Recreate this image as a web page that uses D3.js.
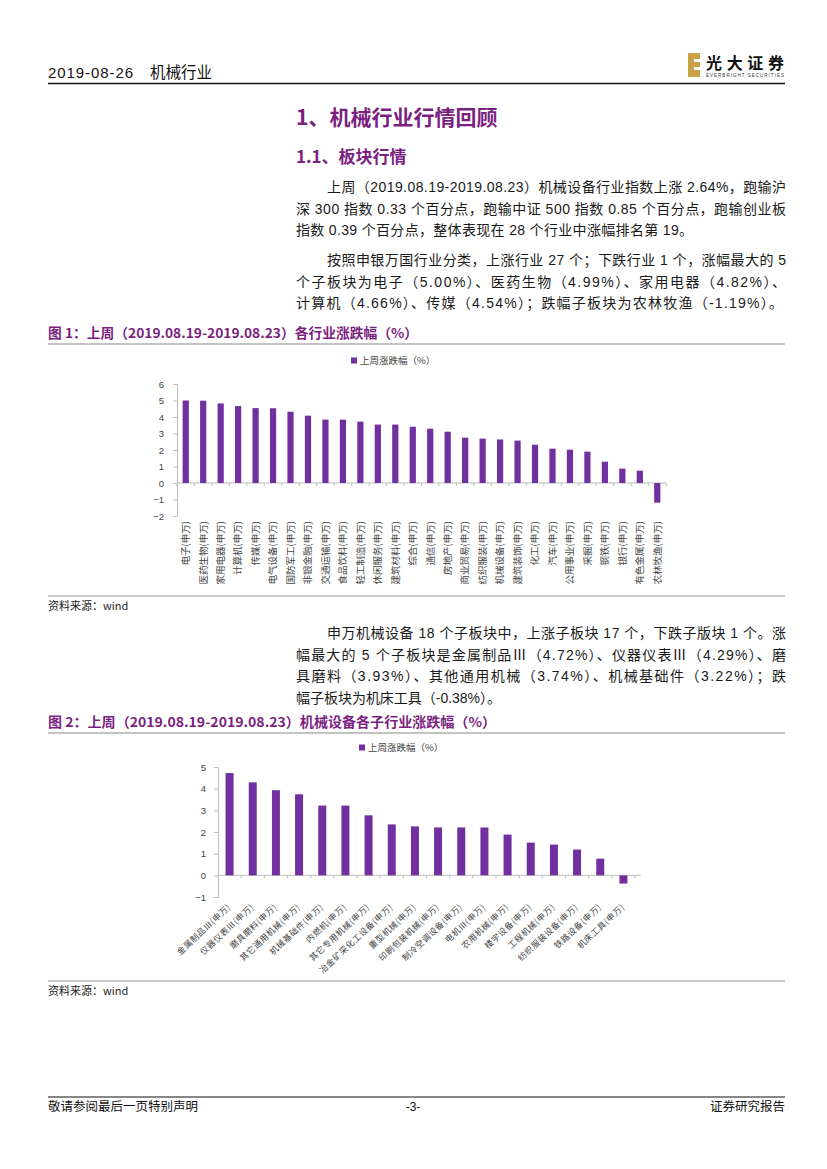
<!DOCTYPE html>
<html>
<head>
<meta charset="utf-8">
<script src="https://cdn.jsdelivr.net/npm/d3@7"></script>
<style>
  html, body { margin: 0; padding: 0; background: #fff; }
  svg { display: block; }
  text { font-family: "Liberation Sans", "Noto Sans CJK SC", sans-serif; }
</style>
</head>
<body>
<div id="page"></div>
<script>
// chart data
var industries = ['电子(申万)', '医药生物(申万)', '家用电器(申万)', '计算机(申万)', '传媒(申万)',
    '电气设备(申万)', '国防军工(申万)', '非银金融(申万)', '交通运输(申万)', '食品饮料(申万)',
    '轻工制造(申万)', '休闲服务(申万)', '建筑材料(申万)', '综合(申万)', '通信(申万)',
    '房地产(申万)', '商业贸易(申万)', '纺织服装(申万)', '机械设备(申万)', '建筑装饰(申万)',
    '化工(申万)', '汽车(申万)', '公用事业(申万)', '采掘(申万)', '钢铁(申万)',
    '银行(申万)', '有色金属(申万)', '农林牧渔(申万)'];
var industryChange = [5.00, 4.99, 4.82, 4.66, 4.54, 4.53, 4.32, 4.08, 3.84, 3.84,
    3.72, 3.54, 3.54, 3.41, 3.29, 3.11, 2.75, 2.69, 2.64, 2.57,
    2.32, 2.08, 2.02, 1.90, 1.29, 0.87, 0.75, -1.19];
var industryTicks = [-2, -1, 0, 1, 2, 3, 4, 5, 6];

var subSectors = ['金属制品Ⅲ(申万)', '仪器仪表Ⅲ(申万)', '磨具磨料(申万)', '其它通用机械(申万)',
    '机械基础件(申万)', '内燃机(申万)', '其它专用机械(申万)', '冶金矿采化工设备(申万)',
    '重型机械(申万)', '印刷包装机械(申万)', '制冷空调设备(申万)', '电机Ⅲ(申万)',
    '农用机械(申万)', '楼宇设备(申万)', '工程机械(申万)', '纺织服装设备(申万)',
    '铁路设备(申万)', '机床工具(申万)'];
var subSectorChange = [4.72, 4.29, 3.93, 3.74, 3.22, 3.22, 2.77, 2.35, 2.26, 2.21,
    2.21, 2.21, 1.88, 1.51, 1.42, 1.19, 0.77, -0.38];
var subSectorTicks = [-1, 0, 1, 2, 3, 4, 5];

var legendLabel = '上周涨跌幅（%）';

var barColor = '#7030a0';
var titleColor = '#7b1f80';
var textColor = '#1a1a1a';
var chartTextColor = '#444';
var axisColor = '#bdbdbd';
var cjk = '"Noto Sans CJK SC", sans-serif';

var width = 827;
var height = 1169;

var svg = d3.select('#page')
    .append('svg')
    .attr('width', width)
    .attr('height', height);

svg.append('rect')
    .attr('width', width)
    .attr('height', height)
    .style('fill', '#fff');

// ---- header ----
svg.append('text')
    .attr('x', 48).attr('y', 78)
    .attr('textLength', 85)
    .style('font-size', '15px')
    .style('fill', '#111')
    .text('2019-08-26');
svg.append('text')
    .attr('x', 150).attr('y', 78)
    .style('font-family', cjk)
    .style('font-size', '15.5px')
    .style('fill', '#111')
    .text('机械行业');
svg.append('line')
    .attr('x1', 48).attr('x2', 785)
    .attr('y1', 83.5).attr('y2', 83.5)
    .style('stroke', '#111')
    .style('stroke-width', 1.5);

// logo: gold E block + name
var logo = svg.append('g').attr('transform', 'translate(688,53)');
logo.append('rect')
    .attr('width', 12).attr('height', 24)
    .style('fill', '#c9a248');
logo.append('rect')
    .attr('x', 6).attr('y', 6).attr('width', 6).attr('height', 3)
    .style('fill', '#fff');
logo.append('rect')
    .attr('x', 6).attr('y', 14).attr('width', 6).attr('height', 3)
    .style('fill', '#fff');
logo.append('text')
    .attr('x', 18).attr('y', 16)
    .attr('textLength', 78)
    .style('font-family', cjk)
    .style('font-weight', 700)
    .style('font-size', '16px')
    .style('fill', '#111')
    .text('光大证券');
logo.append('text')
    .attr('x', 18).attr('y', 23.5)
    .attr('textLength', 78)
    .style('font-size', '4.5px')
    .style('fill', '#333')
    .text('EVERBRIGHT SECURITIES');

// ---- section titles ----
svg.append('text')
    .attr('x', 296).attr('y', 125)
    .style('font-family', cjk)
    .style('font-weight', 700)
    .style('font-size', '21px')
    .style('fill', titleColor)
    .text('1、机械行业行情回顾');
svg.append('text')
    .attr('x', 296).attr('y', 163)
    .style('font-family', cjk)
    .style('font-weight', 700)
    .style('font-size', '17px')
    .style('fill', titleColor)
    .text('1.1、板块行情');

// ---- body paragraphs, one text per printed line ----
var paragraphs = [
    { y: 192, lines: ['上周（2019.08.19-2019.08.23）机械设备行业指数上涨 2.64%，跑输沪',
        '深 300 指数 0.33 个百分点，跑输中证 500 指数 0.85 个百分点，跑输创业板',
        '指数 0.39 个百分点，整体表现在 28 个行业中涨幅排名第 19。'] },
    { y: 265, lines: ['按照申银万国行业分类，上涨行业 27 个；下跌行业 1 个，涨幅最大的 5',
        '个子板块为电子（5.00%）、医药生物（4.99%）、家用电器（4.82%）、',
        '计算机（4.66%）、传媒（4.54%）；跌幅子板块为农林牧渔（-1.19%）。'] },
    { y: 638, lines: ['申万机械设备 18 个子板块中，上涨子板块 17 个，下跌子版块 1 个。涨',
        '幅最大的 5 个子板块是金属制品Ⅲ（4.72%）、仪器仪表Ⅲ（4.29%）、磨',
        '具磨料（3.93%）、其他通用机械（3.74%）、机械基础件（3.22%）；跌',
        '幅子板块为机床工具（-0.38%）。'] }
];
// widths of the lines that do not run to the right margin
var lastLineWidth = [397, 487, 205];

paragraphs.forEach(function (p, pi) {
    p.lines.forEach(function (line, i) {
        var x = i === 0 ? 327 : 296;
        var t = svg.append('text')
            .attr('x', x)
            .attr('y', p.y + i * 21.5)
            .style('font-size', '14px')
            .style('fill', textColor)
            .text(line);
        if (i < p.lines.length - 1) {
            t.attr('textLength', 786 - x).attr('lengthAdjust', 'spacing');
        } else {
            t.attr('textLength', lastLineWidth[pi]).attr('lengthAdjust', 'spacing');
        }
    });
});

// ---- figure captions, rules and sources ----
function caption(y, label, len) {
    svg.append('text')
        .attr('x', 48).attr('y', y)
        .attr('textLength', len)
        .attr('lengthAdjust', 'spacingAndGlyphs')
        .style('font-family', cjk)
        .style('font-weight', 700)
        .style('font-size', '13.5px')
        .style('fill', titleColor)
        .text(label);
    svg.append('line')
        .attr('x1', 48).attr('x2', 785)
        .attr('y1', y + 6).attr('y2', y + 6)
        .style('stroke', '#888')
        .style('stroke-width', 1.2);
}
function source(y) {
    svg.append('line')
        .attr('x1', 48).attr('x2', 785)
        .attr('y1', y - 10).attr('y2', y - 10)
        .style('stroke', '#999')
        .style('stroke-width', 1);
    svg.append('text')
        .attr('x', 48).attr('y', y + 4)
        .style('font-family', cjk)
        .style('font-size', '11px')
        .style('fill', '#222')
        .text('资料来源：wind');
}
caption(338, '图 1：上周（2019.08.19-2019.08.23）各行业涨跌幅（%）', 370);
caption(727, '图 2：上周（2019.08.19-2019.08.23）机械设备各子行业涨跌幅（%）', 448);
source(606);
source(991);

// ---- bar chart ----
function drawChart(o) {
    var g = svg.append('g');

    var x = d3.scaleBand()
        .domain(o.categories)
        .range([o.left, o.right])
        .paddingInner(o.padding)
        .paddingOuter(o.padding / 2);

    var y = d3.scaleLinear()
        .domain(d3.extent(o.ticks))
        .range([o.bottom, o.top]);

    // legend
    g.append('rect')
        .attr('x', o.legendX).attr('y', o.legendY - 3.5)
        .attr('width', 6).attr('height', 6)
        .style('fill', barColor);
    g.append('text')
        .attr('x', o.legendX + 9).attr('y', o.legendY + 3)
        .style('font-family', cjk)
        .style('font-size', '9.5px')
        .style('fill', chartTextColor)
        .text(legendLabel);

    // y axis
    var yAxis = g.append('g')
        .attr('transform', 'translate(' + o.left + ',0)')
        .call(d3.axisLeft(y).tickValues(o.ticks).tickSize(4).tickPadding(o.tickPad)
            .tickFormat(d3.format('d')));
    yAxis.select('.domain').style('stroke', axisColor);
    yAxis.selectAll('.tick line').style('stroke', axisColor);
    yAxis.selectAll('.tick text')
        .style('font-family', '"Liberation Sans", sans-serif')
        .style('font-size', '9.5px')
        .style('fill', chartTextColor);

    // zero line with a tick at every band boundary
    var step = x.step();
    var bounds = o.categories.map(function (c) { return x(c) - step * o.padding / 2; });
    bounds.push(o.right);
    g.append('line')
        .attr('x1', o.left).attr('x2', o.right + o.extend)
        .attr('y1', y(0)).attr('y2', y(0))
        .style('stroke', axisColor);
    g.selectAll('.xtick')
        .data(bounds)
        .enter().append('line')
        .attr('class', 'xtick')
        .attr('x1', function (d) { return d; })
        .attr('x2', function (d) { return d; })
        .attr('y1', y(0)).attr('y2', y(0) + 3)
        .style('stroke', axisColor);

    // bars
    g.selectAll('.bar')
        .data(o.values)
        .enter().append('rect')
        .attr('class', 'bar')
        .attr('x', function (d, i) { return x(o.categories[i]); })
        .attr('width', x.bandwidth())
        .attr('y', function (d) { return y(Math.max(0, d)); })
        .attr('height', function (d) { return Math.abs(y(d) - y(0)); })
        .style('fill', barColor);

    // category labels
    var xAxis = g.append('g')
        .attr('transform', 'translate(0,' + o.labelY + ')')
        .call(d3.axisBottom(x).tickSize(0).tickPadding(0));
    xAxis.select('.domain').remove();
    xAxis.selectAll('.tick text')
        .attr('y', 0)
        .attr('x', 0)
        .attr('dy', o.rotate === -90 ? '0.35em' : '0.3em')
        .attr('transform', 'rotate(' + o.rotate + ')')
        .style('text-anchor', 'end')
        .style('font-family', cjk)
        .style('font-size', o.labelSize)
        .style('letter-spacing', o.labelSpacing)
        .style('fill', chartTextColor);
}

drawChart({
    categories: industries, values: industryChange, ticks: industryTicks,
    left: 177, right: 666, top: 384, bottom: 516, padding: 0.645, extend: 0,
    tickPad: 9, legendX: 351, legendY: 361,
    labelY: 521, rotate: -90, labelSize: '9.5px', labelSpacing: '0px'
});

drawChart({
    categories: subSectors, values: subSectorChange, ticks: subSectorTicks,
    left: 218, right: 635, top: 767, bottom: 897, padding: 0.655, extend: 6,
    tickPad: 8, legendX: 359, legendY: 748,
    labelY: 906, rotate: -43, labelSize: '8.5px', labelSpacing: '0.5px'
});

// ---- footer ----
svg.append('line')
    .attr('x1', 48).attr('x2', 785)
    .attr('y1', 1097).attr('y2', 1097)
    .style('stroke', '#111')
    .style('stroke-width', 1.2);
svg.append('text')
    .attr('x', 48).attr('y', 1111)
    .style('font-family', cjk)
    .style('font-size', '12.5px')
    .style('fill', '#111')
    .text('敬请参阅最后一页特别声明');
svg.append('text')
    .attr('x', 413).attr('y', 1111)
    .style('text-anchor', 'middle')
    .style('font-size', '12px')
    .style('fill', '#111')
    .text('-3-');
svg.append('text')
    .attr('x', 785).attr('y', 1111)
    .style('text-anchor', 'end')
    .style('font-family', cjk)
    .style('font-size', '12.5px')
    .style('fill', '#111')
    .text('证券研究报告');
</script>
</body>
</html>
